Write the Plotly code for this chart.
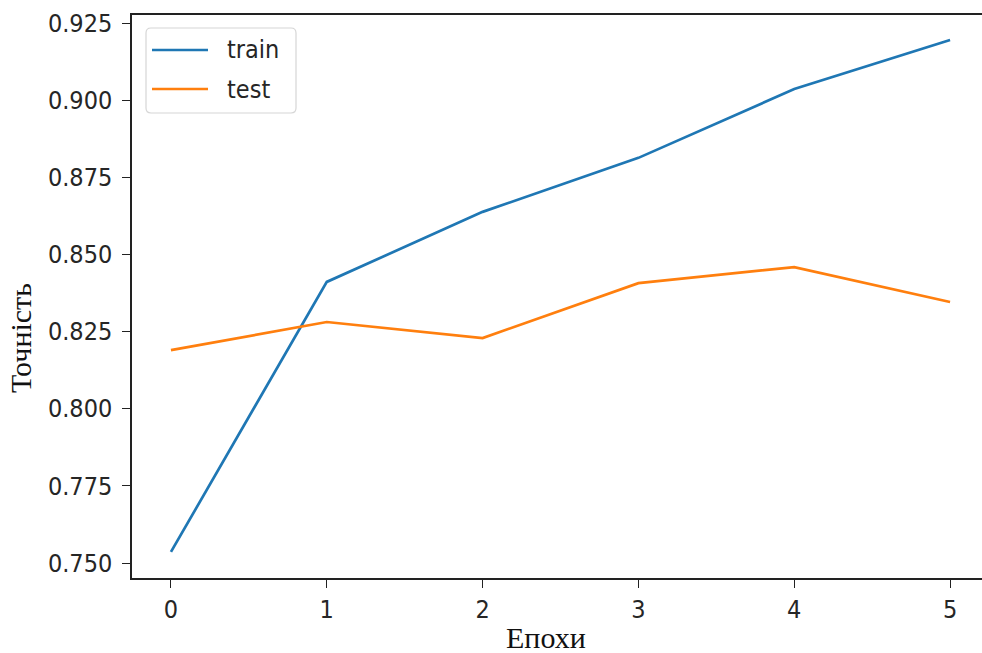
import plotly.graph_objects as go

# Accuracy per training epoch
epochs = [0, 1, 2, 3, 4, 5]
train_acc = [0.7536, 0.8411, 0.8638, 0.8813, 0.9036, 0.9195]
test_acc = [0.8190, 0.8281, 0.8229, 0.8407, 0.8459, 0.8346]
y_ticks = [0.750, 0.775, 0.800, 0.825, 0.850, 0.875, 0.900, 0.925]
series_names = ["train", "test"]
series_colors = ["#1f77b4", "#ff7f0e"]

W, H = 982, 653
L, R, T, B = 132, 0, 15, 75
PW, PH = W - L - R, H - T - B


def px(x):
    return (x - L) / PW


def py(y):
    return (H - B - y) / PH


fig = go.Figure()
for name, vals, col in zip(series_names, [train_acc, test_acc], series_colors):
    fig.add_trace(go.Scatter(x=epochs, y=vals, mode="lines", name=name,
                             line=dict(color=col, width=2.7)))

tick_font = dict(family="DejaVu Sans Condensed, DejaVu Sans", size=25, color="#262626")
label_font = dict(family="Liberation Serif", size=30, color="#111111")

shapes = []
annotations = []

# legend box with rounded corners
x0, x1, y0, y1, r = px(146), px(296), py(28), py(113), 5
rx, ry = r / PW, r / PH
path = (f"M {x0+rx},{y0} L {x1-rx},{y0} Q {x1},{y0} {x1},{y0-ry} "
        f"L {x1},{y1+ry} Q {x1},{y1} {x1-rx},{y1} L {x0+rx},{y1} "
        f"Q {x0},{y1} {x0},{y1+ry} L {x0},{y0-ry} Q {x0},{y0} {x0+rx},{y0} Z")
shapes.append(dict(type="path", xref="paper", yref="paper", path=path,
                   line=dict(color="#d6d6d6", width=1.2),
                   fillcolor="rgba(255,255,255,0.8)", layer="above"))
for i, (name, col) in enumerate(zip(series_names, series_colors)):
    yy = py(50 + 39 * i)
    shapes.append(dict(type="line", xref="paper", yref="paper",
                       x0=px(152), x1=px(208), y0=yy, y1=yy,
                       line=dict(color=col, width=2.7), layer="above"))
    annotations.append(dict(text=name, xref="paper", yref="paper",
                            x=px(225), y=yy, xanchor="left", yanchor="middle",
                            showarrow=False, font=tick_font))

# axis titles
annotations.append(dict(text="Епохи", xref="paper", yref="paper",
                        x=px(546), y=py(637), xanchor="center", yanchor="middle",
                        showarrow=False, font=label_font))
annotations.append(dict(text="Точність", xref="paper", yref="paper",
                        x=px(20), y=py(338), xanchor="center", yanchor="middle",
                        textangle=-90, showarrow=False, font=label_font))

fig.update_layout(
    width=W, height=H,
    margin=dict(l=L, r=R, t=T, b=B),
    paper_bgcolor="white", plot_bgcolor="white",
    showlegend=False,
    shapes=shapes, annotations=annotations,
    xaxis=dict(
        range=[-0.25, 5.205], tickvals=epochs, ticktext=[str(e) for e in epochs],
        showgrid=False, zeroline=False, showline=True, linecolor="#222", linewidth=1.5,
        mirror=True, ticks="outside", ticklen=8, tickcolor="#222", tickwidth=1.2,
        tickfont=tick_font,
    ),
    yaxis=dict(
        range=[0.74514, 0.9276], tickvals=y_ticks,
        ticktext=[f"{v:.3f}" for v in y_ticks],
        showgrid=False, zeroline=False, showline=True, linecolor="#222", linewidth=1.5,
        ticks="outside", ticklen=8, tickcolor="#222", tickwidth=1.2,
        tickfont=tick_font, ticklabelstandoff=5,
    ),
)

fig.write_html("out.html")
